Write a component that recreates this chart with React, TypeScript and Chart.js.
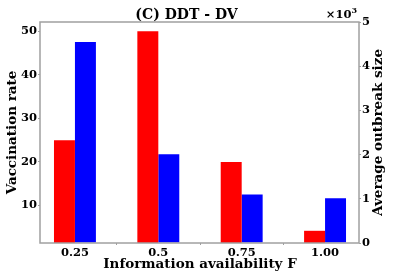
import React, { useEffect, useRef } from "react";
import { Chart, registerables } from "chart.js";

Chart.register(...registerables);

const xValues = [0.25, 0.5, 0.75, 1.0];
const xTickLabels = ["0.25", "0.5", "0.75", "1.00"];
const vaccinationRate = [25, 50, 20, 4.2];
const outbreakSize = [4550, 2010, 1100, 1010];
const leftTicks = [10, 20, 30, 40, 50];
const rightTicks = [0, 1000, 2000, 3000, 4000, 5000];

const FONT = "'DejaVu Serif', serif";
const GRAY = "#a0a0a0";

const textPlugin = {
  id: "texts",
  afterDraw(chart: any) {
    const ctx = chart.ctx;
    const a = chart.chartArea;
    ctx.save();
    ctx.strokeStyle = GRAY;
    ctx.lineWidth = 1.5;
    ctx.strokeRect(a.left, a.top, a.right - a.left, a.bottom - a.top);
    ctx.fillStyle = "#000";
    ctx.textBaseline = "middle";
    ctx.textAlign = "center";
    ctx.font = `bold 14px ${FONT}`;
    ctx.fillText("(C) DDT - DV", 186.5, 15);
    ctx.font = `bold 13.5px ${FONT}`;
    ctx.fillText("Information availability F", 200, 264);
    const cy = (a.top + a.bottom) / 2;
    ctx.save();
    ctx.translate(12, cy);
    ctx.rotate(-Math.PI / 2);
    ctx.fillText("Vaccination rate", 0, 0);
    ctx.restore();
    ctx.save();
    ctx.translate(378, cy);
    ctx.rotate(-Math.PI / 2);
    ctx.fillText("Average outbreak size", 0, 0);
    ctx.restore();
    // x10^3
    ctx.textAlign = "right";
    ctx.font = `bold 8px ${FONT}`;
    ctx.fillText("3", 357, 11);
    const w3 = ctx.measureText("3").width;
    ctx.font = `bold 11.5px ${FONT}`;
    ctx.fillText("\u00d710", 357 - w3, 15);
    ctx.restore();
  },
};

export default function App() {
  const ref = useRef<HTMLCanvasElement | null>(null);
  useEffect(() => {
    document.body.style.margin = "0";
    const tickFont = { family: FONT, weight: "bold" as const, size: 11.5 };
    const chart = new Chart(ref.current as HTMLCanvasElement, {
      type: "bar",
      data: {
        datasets: [
          {
            label: "Vaccination rate",
            data: xValues.map((x, i) => ({ x, y: vaccinationRate[i] })),
            backgroundColor: "#ff0000",
            yAxisID: "y",
            categoryPercentage: 0.503,
            barPercentage: 1,
          },
          {
            label: "Average outbreak size",
            data: xValues.map((x, i) => ({ x, y: outbreakSize[i] })),
            backgroundColor: "#0000ff",
            yAxisID: "y1",
            categoryPercentage: 0.503,
            barPercentage: 1,
          },
        ],
      },
      options: {
        animation: false,
        responsive: false,
        layout: { padding: { top: 22, left: 0, right: 0, bottom: 0 } },
        plugins: { legend: { display: false }, tooltip: { enabled: false }, title: { display: false } },
        scales: {
          x: {
            type: "linear",
            min: 0.1452,
            max: 1.1018,
            offset: false,
            afterBuildTicks: (s: any) => {
              s.ticks = xValues.map((v) => ({ value: v }));
            },
            afterFit: (s: any) => {
              s.height = 30;
            },
            ticks: {
              font: tickFont,
              color: "#000",
              padding: 1,
              maxRotation: 0,
              autoSkip: false,
              callback: (v: any) => xTickLabels[xValues.indexOf(Number(v))] ?? "",
            },
            grid: { drawOnChartArea: false, drawTicks: true, tickLength: 2, color: GRAY },
            border: { display: false },
          },
          y: {
            type: "linear",
            position: "left",
            min: 1.4,
            max: 52.1,
            afterBuildTicks: (s: any) => {
              s.ticks = leftTicks.map((v) => ({ value: v }));
            },
            afterFit: (s: any) => {
              s.width = 40;
            },
            ticks: { font: tickFont, color: "#000", padding: 1 },
            grid: { drawOnChartArea: false, drawTicks: true, tickLength: 2, color: GRAY },
            border: { display: false },
          },
          y1: {
            type: "linear",
            position: "right",
            min: 0,
            max: 5000,
            afterBuildTicks: (s: any) => {
              s.ticks = rightTicks.map((v) => ({ value: v }));
            },
            afterFit: (s: any) => {
              s.width = 40;
            },
            ticks: {
              font: tickFont,
              color: "#000",
              padding: 1,
              callback: (v: any) => String(Number(v) / 1000),
            },
            grid: { drawOnChartArea: false, drawTicks: true, tickLength: 2, color: GRAY },
            border: { display: false },
          },
        },
      },
      plugins: [textPlugin],
    } as any);
    return () => chart.destroy();
  }, []);
  return (
    <div style={{ width: 399, height: 273 }}>
      <canvas ref={ref} width={399} height={273} style={{ width: 399, height: 273, display: "block" }} />
    </div>
  );
}
